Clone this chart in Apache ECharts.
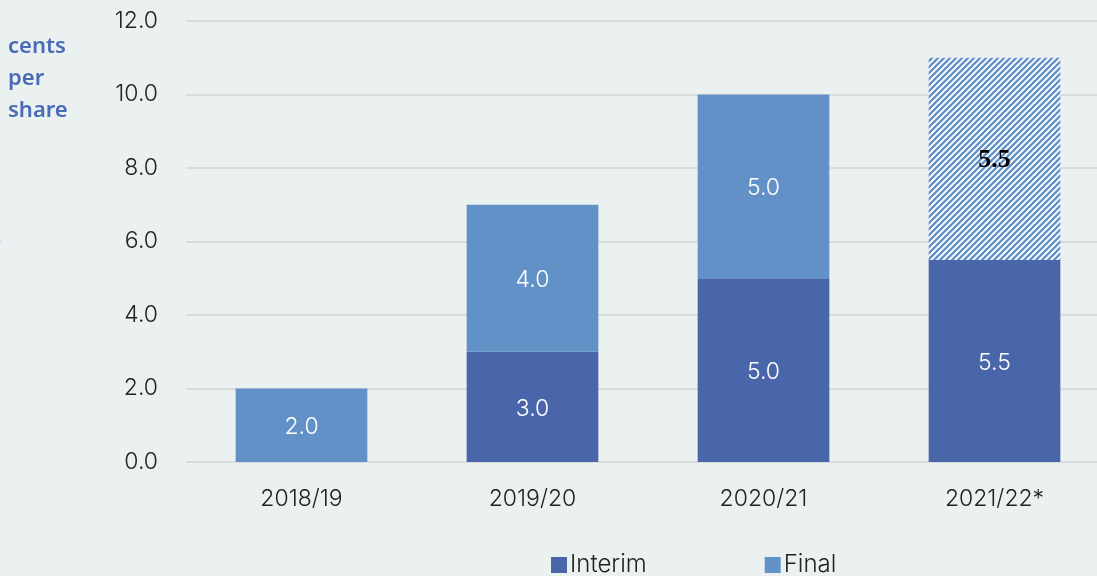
<!DOCTYPE html>
<html>
<head>
<meta charset="utf-8">
<script src="https://cdn.jsdelivr.net/npm/echarts@6/dist/echarts.min.js"></script>
<style>
  html, body { margin: 0; padding: 0; background: #ebf1f1; overflow: hidden; }
  /* chart is a little wider than the window so the last gridline runs off the edge */
  #chart { width: 1110px; height: 576px; }
</style>
</head>
<body>
<div id="chart"></div>
<script>
const categories = ['2018/19', '2019/20', '2020/21', '2021/22*']
const interimData = [null, 3.0, 5.0, 5.5]
const finalData = [2.0, 4.0, 5.0, null]
const projectedFinal = [null, null, null, 5.5]
const yTicks = [0, 2, 4, 6, 8, 10, 12]

const interimColor = '#4a66aa'
const finalColor = '#6291c8'

// diagonal hatch for the projected final dividend
const makeHatch = () => {
  const s = 6
  const c = document.createElement('canvas')
  c.width = s
  c.height = s
  const ctx = c.getContext('2d')
  ctx.fillStyle = '#ffffff'
  ctx.fillRect(0, 0, s, s)
  ctx.strokeStyle = finalColor
  ctx.lineWidth = 2.3
  ctx.beginPath()
  ctx.moveTo(-1, s + 1); ctx.lineTo(s + 1, -1)
  ctx.moveTo(-1, 1); ctx.lineTo(1, -1)
  ctx.moveTo(s - 1, s + 1); ctx.lineTo(s + 1, s - 1)
  ctx.stroke()
  return c
}

const chart = echarts.init(document.getElementById('chart'))

const labelWhite = {
  show: true,
  position: 'inside',
  color: '#ffffff',
  fontFamily: 'Inter',
  fontWeight: 300,
  fontSize: 23,
  offset: [0, 2],
  formatter: p => p.value == null ? '' : p.value.toFixed(1)
}

const option = {
  backgroundColor: '#ebf1f1',
  animation: false,
  grid: { left: 186, top: 21, right: 0, bottom: 114 },
  graphic: [{
    type: 'text',
    left: 8,
    top: 31,
    style: {
      text: 'cents\nper\nshare',
      fill: '#4a6bb5',
      font: '600 22px "Noto Sans"',
      lineHeight: 32
    }
  }, {
    type: 'text',
    left: -3,
    top: 236,
    style: { text: '-', fill: '#4a6bb5', font: '12px "Noto Sans"' }
  }],
  legend: {
    bottom: -6,
    left: 546,
    itemWidth: 16,
    itemHeight: 16,
    itemGap: 118,
    icon: 'rect',
    data: ['Interim', 'Final'],
    textStyle: { fontFamily: 'Inter', fontWeight: 300, fontSize: 24, color: '#222', padding: [0, 0, 0, -2] }
  },
  xAxis: {
    type: 'category',
    data: categories,
    axisLine: { show: false },
    axisTick: { show: false },
    axisLabel: { margin: 26, fontFamily: 'Inter', fontWeight: 300, fontSize: 23, color: '#222' }
  },
  yAxis: {
    type: 'value',
    min: yTicks[0],
    max: yTicks[yTicks.length - 1],
    interval: 2,
    axisLine: { show: false },
    axisTick: { show: false },
    splitLine: { lineStyle: { color: '#d8dcdc', width: 2 } },
    axisLabel: {
      margin: 28,
      fontFamily: 'Inter',
      fontWeight: 300,
      fontSize: 23,
      color: '#222',
      formatter: v => v.toFixed(1)
    }
  },
  series: [{
    name: 'Interim',
    type: 'bar',
    stack: 'dps',
    barWidth: '57%',
    itemStyle: { color: interimColor },
    label: labelWhite,
    data: interimData
  }, {
    name: 'Final',
    type: 'bar',
    stack: 'dps',
    itemStyle: { color: finalColor },
    label: labelWhite,
    data: finalData
  }, {
    name: 'Final (projected)',
    type: 'bar',
    stack: 'dps',
    itemStyle: { color: { image: makeHatch(), repeat: 'repeat' } },
    label: {
      show: true,
      position: 'inside',
      color: '#000',
      fontFamily: 'Liberation Serif',
      fontWeight: 'bold',
      fontSize: 26,
      offset: [0, 1],
      formatter: p => p.value == null ? '' : p.value.toFixed(1)
    },
    data: projectedFinal
  }]
}

chart.setOption(option)
window.addEventListener('resize', () => chart.resize())
</script>
</body>
</html>
